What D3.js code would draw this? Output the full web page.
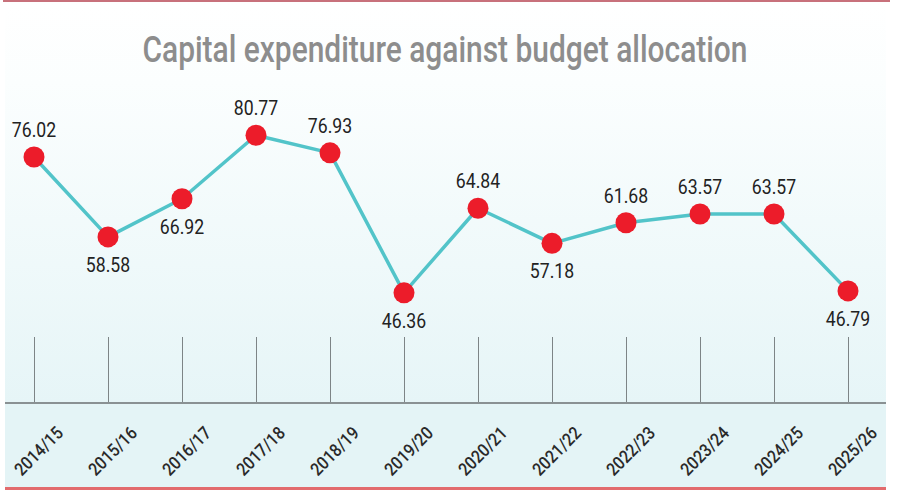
<!DOCTYPE html>
<html>
<head>
<meta charset="utf-8">
<script src="https://cdn.jsdelivr.net/npm/d3@7"></script>
<style>
  html, body { margin: 0; padding: 0; background: #ffffff; }
  svg { display: block; }
</style>
</head>
<body>
<div id="chart"></div>
<script>
// ---- data ----
const title = "Capital expenditure against budget allocation";
const years = ["2014/15","2015/16","2016/17","2017/18","2018/19","2019/20","2020/21","2021/22","2022/23","2023/24","2024/25","2025/26"];
const values = [76.02, 58.58, 66.92, 80.77, 76.93, 46.36, 64.84, 57.18, 61.68, 63.57, 63.57, 46.79];
const valueLabels = ["76.02","58.58","66.92","80.77","76.93","46.36","64.84","57.18","61.68","63.57","63.57","46.79"];
const labelSide = ["above","below","below","above","above","below","above","below","above","above","above","below"];

// ---- layout ----
const W = 900, H = 490;
const FONT = "Roboto, 'Noto Sans', sans-serif";
const svg = d3.select("#chart").append("svg").attr("width", W).attr("height", H);

const defs = svg.append("defs");
const grad = defs.append("linearGradient").attr("id", "bg").attr("x1", 0).attr("y1", 0).attr("x2", 0).attr("y2", 1);
grad.append("stop").attr("offset", "0%").attr("stop-color", "#ffffff");
grad.append("stop").attr("offset", "20%").attr("stop-color", "#fbfefe");
grad.append("stop").attr("offset", "100%").attr("stop-color", "#e6f5f7");

// background panel
svg.append("rect").attr("x", 5).attr("y", 2).attr("width", 881).attr("height", 401).attr("fill", "url(#bg)");
svg.append("rect").attr("x", 5).attr("y", 403).attr("width", 881).attr("height", 85).attr("fill", "#e4f4f6");

// top & bottom rules
svg.append("rect").attr("x", 3).attr("y", 0).attr("width", 887).attr("height", 2).attr("fill", "#c8717b");
svg.append("rect").attr("x", 5).attr("y", 487).attr("width", 881).attr("height", 3).attr("fill", "#e26b6d");

// condense helper: squeeze text horizontally
function condense(sel, f) {
  sel.each(function () {
    const n = this.getComputedTextLength();
    d3.select(this).attr("textLength", n * f).attr("lengthAdjust", "spacingAndGlyphs");
  });
}

// title
svg.append("text")
  .attr("x", 445).attr("y", 62)
  .attr("text-anchor", "middle")
  .attr("font-family", FONT)
  .attr("font-size", 37)
  .attr("font-weight", 500)
  .attr("fill", "#8d8d8d")
  .attr("textLength", 605)
  .attr("lengthAdjust", "spacingAndGlyphs")
  .text(title);

// scales
const x = d3.scalePoint().domain(years).range([34, 848]).padding(0);
const y = d3.scaleLinear().domain([40, 90]).range([322, 93]);

const axisY = 403;

// x axis with long ticks reaching up
const xAxis = d3.axisBottom(x).tickSize(0).tickFormat("");
const gx = svg.append("g").attr("transform", `translate(0,${axisY})`).call(xAxis);
gx.select(".domain").remove();
gx.selectAll(".tick").append("line")
  .attr("y1", 0).attr("y2", -66)
  .attr("stroke", "#7d8486").attr("stroke-width", 1);
gx.selectAll(".tick").append("text")
  .attr("transform", "translate(4,48) rotate(-45)")
  .attr("text-anchor", "middle")
  .attr("dy", "0.35em")
  .attr("font-family", FONT)
  .attr("font-size", 18)
  .attr("font-weight", 500)
  .attr("fill", "#2a2a2a")
  .text(d => d)
  .call(condense, 0.88);

// baseline
svg.append("line")
  .attr("x1", 5).attr("x2", 886).attr("y1", axisY).attr("y2", axisY)
  .attr("stroke", "#8a9193").attr("stroke-width", 2);

// line
const pts = years.map((yr, i) => ({ yr, v: values[i], lab: valueLabels[i], side: labelSide[i] }));
const line = d3.line().x(d => x(d.yr)).y(d => y(d.v));
svg.append("path").datum(pts)
  .attr("d", line)
  .attr("fill", "none")
  .attr("stroke", "#52c4c9")
  .attr("stroke-width", 3.5)
  .attr("stroke-linejoin", "round");

// markers
svg.selectAll("circle.pt").data(pts).enter().append("circle")
  .attr("class", "pt")
  .attr("cx", d => x(d.yr)).attr("cy", d => y(d.v))
  .attr("r", 10.5)
  .attr("fill", "#ec1c2a");

// value labels
svg.selectAll("text.val").data(pts).enter().append("text")
  .attr("class", "val")
  .attr("x", d => x(d.yr))
  .attr("y", d => y(d.v) + (d.side === "above" ? -20 : 35))
  .attr("text-anchor", "middle")
  .attr("font-family", FONT)
  .attr("font-size", 21)
  .attr("fill", "#222222")
  .text(d => d.lab)
  .call(condense, 0.84);
</script>
</body>
</html>
